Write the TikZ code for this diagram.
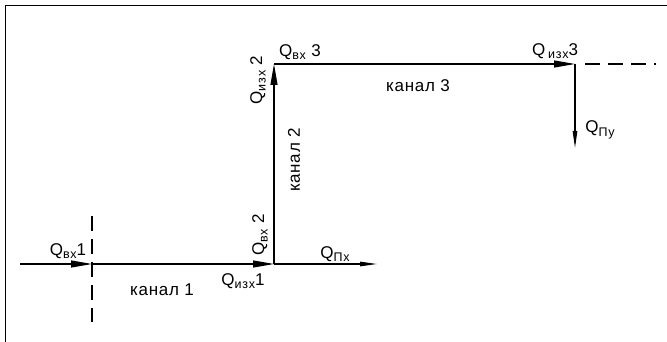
\documentclass[tikz,border=0pt]{standalone}
\usepackage{fontspec}
\setmainfont{Liberation Sans}
\usepackage{tikz}
\usetikzlibrary{arrows.meta, positioning, calc}

% subscript of a flow name
\newcommand{\flowsub}[1]{\raisebox{-3.5pt}{\fontsize{12.5}{13}\selectfont\addfontfeatures{LetterSpace=6}#1}}

\begin{document}
\begin{tikzpicture}[x=1pt, y=-1pt,
    flow/.style={line width=1.1pt, -{Triangle[length=21pt, width=7pt]}},
    outflow/.style={line width=1.1pt, -{Triangle[length=17pt, width=4.5pt]}},
    cutline/.style={line width=1.1pt, dash pattern=on 15pt off 8pt},
    lbl/.style={font=\fontsize{17}{19}\selectfont\addfontfeatures{LetterSpace=4}, inner sep=0pt}]
    \useasboundingbox (0,0) rectangle (667,342);

    % Frame (top and left edge only)
    \draw[line width=1pt] (5,342) -- (5,6) -- (667,6);

    % Junction points
    \coordinate (start) at (20,264);
    \coordinate (in1) at (92,264);
    \coordinate (j1) at (274,264);
    \coordinate (px) at (377,264);
    \coordinate (j2) at (274,64);
    \coordinate (j3) at (575,64);
    \coordinate (py) at (575,148);
    \coordinate (cuttop) at (92,216);
    \coordinate (cutbot) at (92,322);
    \coordinate (dashstart) at (585,64);
    \coordinate (dashend) at (656,64);

    % Channels
    \draw[flow] (start) -- (in1);
    \draw[flow] (in1) -- (j1);
    \draw[flow] (j1) -- (j2);
    \draw[flow] (j2) -- (j3);

    % Losses
    \draw[outflow] (j1) -- (px);
    \draw[outflow] (j3) -- (py);

    % Section boundaries
    \draw[cutline] (cuttop) -- (cutbot);
    \draw[cutline] (dashstart) -- (dashend);

    % Labels
    \node[lbl] (qin1) at (68,251) {Q\flowsub{вх}1};
    \node[lbl] (ch1) at (162,290) {канал 1};
    \node[lbl] (qout1) at (243,281) {Q\flowsub{изх}1};
    \node[lbl] (qpx) at (335,254) {Q\flowsub{Пх}};
    \node[lbl, rotate=90] (qin2) at (260,235) {Q\flowsub{вх} 2};
    \node[lbl, rotate=90] (ch2) at (294,160) {канал 2};
    \node[lbl, rotate=90] (qout2) at (258,80) {Q\flowsub{изх} 2};
    \node[lbl] (qin3) at (300,52) {Q\flowsub{вх} 3};
    \node[lbl] (ch3) at (418,86) {канал 3};
    \node[lbl] (qout3) at (555,51) {Q\,\flowsub{изх}3};
    \node[lbl] (qpy) at (600,130) {Q\flowsub{Пу}};
\end{tikzpicture}
\end{document}
